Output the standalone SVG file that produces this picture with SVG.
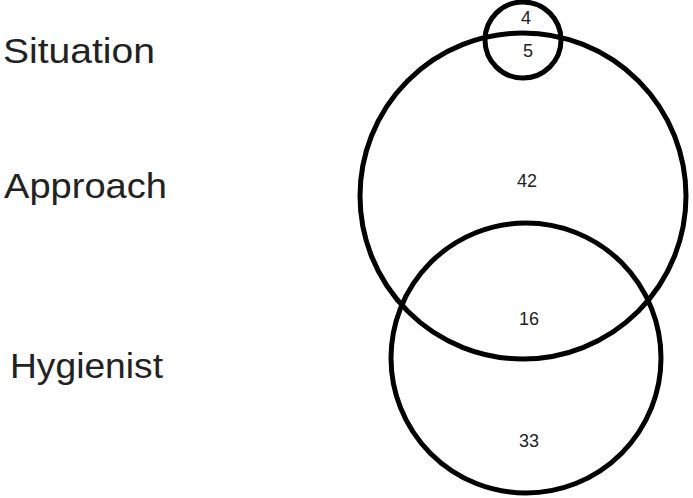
<svg xmlns="http://www.w3.org/2000/svg" width="693" height="498" viewBox="0 0 693 498">
  <style>
    .set { fill: none; stroke: #000; stroke-width: 5; }
    .label { font-family: "Liberation Sans", Arial, sans-serif; font-size: 35px; fill: #222; }
    .num { font-family: "Liberation Sans", Arial, sans-serif; font-size: 18px; fill: #222; text-anchor: middle; }
  </style>
  <rect width="693" height="498" fill="#fff"/>
  <g id="connectors"/>
  <g id="approach">
    <circle class="set" cx="523" cy="196" r="163"/>
    <text class="label" x="4" y="198" textLength="163" lengthAdjust="spacingAndGlyphs">Approach</text>
  </g>
  <g id="hygienist">
    <circle class="set" cx="526" cy="358" r="135"/>
    <text class="label" x="10" y="378" textLength="153" lengthAdjust="spacingAndGlyphs">Hygienist</text>
  </g>
  <g id="situation">
    <circle class="set" cx="523" cy="40" r="38"/>
    <text class="label" x="3" y="63" textLength="152" lengthAdjust="spacingAndGlyphs">Situation</text>
  </g>
  <g id="counts">
    <text class="num" x="526" y="24">4</text>
    <text class="num" x="528" y="57">5</text>
    <text class="num" x="527" y="187">42</text>
    <text class="num" x="529" y="325">16</text>
    <text class="num" x="529" y="447">33</text>
  </g>
</svg>
